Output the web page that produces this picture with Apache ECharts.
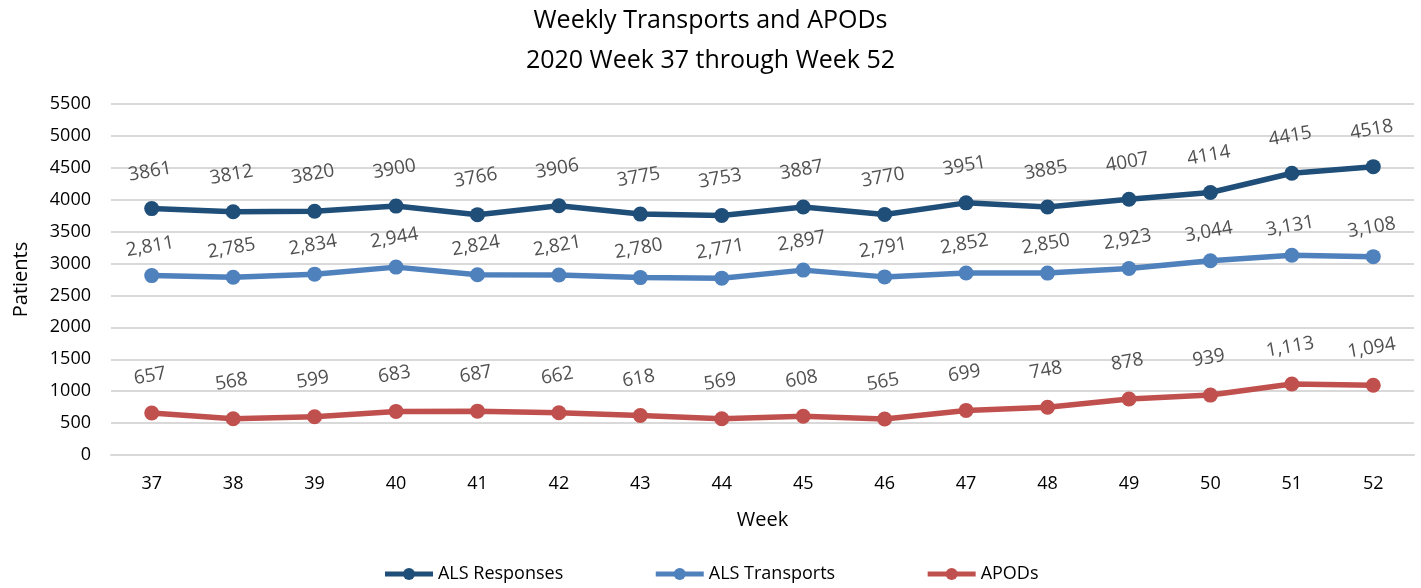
<!DOCTYPE html>
<html>
<head>
<meta charset="utf-8">
<script src="https://cdn.jsdelivr.net/npm/echarts@6/dist/echarts.min.js"></script>
<style>
html, body { margin: 0; padding: 0; background: #fff; }
#chart { width: 1421px; height: 588px; }
</style>
</head>
<body>
<div id="chart"></div>
<script>
let weeks = ['37', '38', '39', '40', '41', '42', '43', '44', '45', '46', '47', '48', '49', '50', '51', '52'];
let alsResponses = [3861, 3812, 3820, 3900, 3766, 3906, 3775, 3753, 3887, 3770, 3951, 3885, 4007, 4114, 4415, 4518];
let alsTransports = [2811, 2785, 2834, 2944, 2824, 2821, 2780, 2771, 2897, 2791, 2852, 2850, 2923, 3044, 3131, 3108];
let apods = [657, 568, 599, 683, 687, 662, 618, 569, 608, 565, 699, 748, 878, 939, 1113, 1094];

let myChart = echarts.init(document.getElementById('chart'));

function makeSeries(name, data, color, fmt, dist) {
    return {
        name: name,
        type: 'line',
        data: data,
        symbol: 'circle',
        symbolSize: 15,
        lineStyle: {width: 5.5, color: color},
        itemStyle: {color: color},
        label: {
            show: true,
            position: 'top',
            distance: dist,
            rotate: 10,
            fontSize: 19,
            fontFamily: 'Open Sans',
            color: '#505050',
            formatter: fmt
        }
    };
}

let option = {
    title: {
        text: 'Weekly Transports and APODs\n2020 Week 37 through Week 52',
        left: 'center',
        top: -4,
        textStyle: {
            fontFamily: 'Open Sans',
            fontWeight: 'normal',
            fontSize: 25,
            lineHeight: 40,
            color: '#000'
        }
    },
    legend: {
        bottom: 0,
        left: 'center',
        itemGap: 90,
        itemWidth: 48,
        itemHeight: 15,
        lineStyle: {width: 5},
        textStyle: {fontFamily: 'Open Sans', fontSize: 18, color: '#000'},
        data: ['ALS Responses', 'ALS Transports', 'APODs']
    },
    grid: {left: 111, right: 7, top: 104, bottom: 133},
    xAxis: {
        type: 'category',
        data: weeks,
        name: 'Week',
        nameLocation: 'middle',
        nameGap: 55,
        nameTextStyle: {fontSize: 20, fontFamily: 'Open Sans', color: '#000'},
        axisLine: {lineStyle: {color: '#d9d9d9', width: 2}},
        axisTick: {show: false},
        axisLabel: {fontSize: 18, fontFamily: 'Open Sans', color: '#000', margin: 20}
    },
    yAxis: {
        type: 'value',
        min: 0,
        max: 5500,
        interval: 500,
        name: 'Patients',
        nameLocation: 'middle',
        nameGap: 80,
        nameTextStyle: {fontSize: 20, fontFamily: 'Open Sans', color: '#000'},
        axisLine: {show: false},
        axisLabel: {fontSize: 18, fontFamily: 'Open Sans', color: '#000', margin: 20, formatter: function (v) { return String(v); }},
        splitLine: {lineStyle: {color: '#d9d9d9', width: 2}}
    },
    series: [
        makeSeries('ALS Responses', alsResponses, '#1F4E79', function (p) { return String(p.value); }, 20),
        makeSeries('ALS Transports', alsTransports, '#4F81BD', function (p) { return p.value.toLocaleString('en-US'); }, 12),
        makeSeries('APODs', apods, '#C0504D', function (p) { return p.value.toLocaleString('en-US'); }, 20)
    ]
};
myChart.setOption(option);
</script>
</body>
</html>
